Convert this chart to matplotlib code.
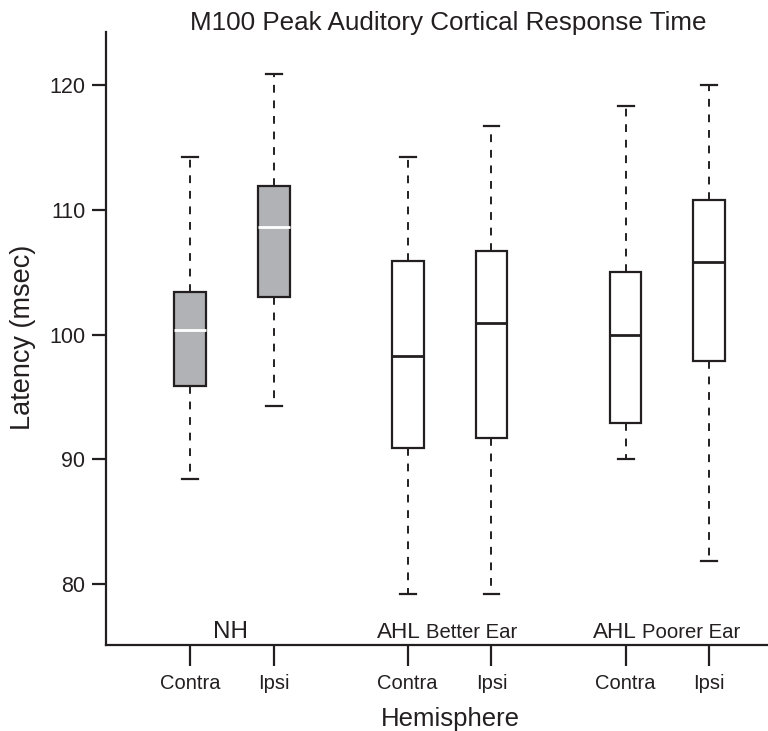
import matplotlib
matplotlib.use("Agg")
import matplotlib.pyplot as plt

plt.rcParams['font.family'] = ['Liberation Sans', 'DejaVu Sans']

# box stats (msec)
labels = ["Contra", "Ipsi", "Contra", "Ipsi", "Contra", "Ipsi"]
whislo = [88.4, 94.3, 79.2, 79.2, 90.0, 81.8]
q1 = [95.9, 103.0, 90.9, 91.7, 92.9, 97.9]
med = [100.4, 108.6, 98.3, 100.9, 100.0, 105.8]
q3 = [103.4, 111.9, 105.9, 106.7, 105.0, 110.8]
whishi = [114.2, 120.9, 114.2, 116.7, 118.3, 120.0]
groups = ["NH", "AHL", "AHL"]
subgroups = ["", "Better Ear", "Poorer Ear"]

ink = "#231f20"
gray = "#b1b2b5"
pos = [1, 2, 3.6, 4.6, 6.2, 7.2]

fig = plt.figure(figsize=(7.68, 7.31), dpi=100)
ax = fig.add_axes([0.138, 0.1176, 0.862, 0.8385])

stats = []
for i in range(len(med)):
    stats.append(dict(whislo=whislo[i], q1=q1[i], med=med[i], q3=q3[i],
                      whishi=whishi[i], fliers=[]))

for i, s in enumerate(stats):
    nh = i < 2
    ax.bxp([s], positions=[pos[i]], widths=0.38, patch_artist=True,
           showfliers=False,
           boxprops=dict(facecolor=gray if nh else "white", edgecolor=ink, linewidth=1.6),
           medianprops=dict(color="white" if nh else ink, linewidth=2.0),
           whiskerprops=dict(color=ink, linewidth=1.4, linestyle=(0, (4, 4))),
           capprops=dict(color=ink, linewidth=1.6))

ax.set_xlim(0, 7.9)
ax.set_ylim(75.1, 124.25)
ax.set_yticks([80, 90, 100, 110, 120])
ax.set_xticks(pos)
ax.set_xticklabels(labels)
ax.spines['top'].set_visible(False)
ax.spines['right'].set_visible(False)
for sp in ['left', 'bottom']:
    ax.spines[sp].set_linewidth(1.6)
    ax.spines[sp].set_color(ink)
ax.tick_params(axis='y', length=10, width=1.6, color=ink, labelcolor=ink,
               labelsize=15.5, pad=5)
ax.tick_params(axis='x', length=15, width=1.6, color=ink, labelcolor=ink,
               labelsize=14.5, pad=6)

# group labels just above the x axis, sharing one baseline
base = 75.67
centers = [(pos[0] + pos[1]) / 2, (pos[2] + pos[3]) / 2, (pos[4] + pos[5]) / 2]
ax.text(centers[0] - 0.02, base, groups[0], ha='center', va='baseline',
        fontsize=17.5, color=ink)
split_main = [0, 0.34, 0.37]
split_sub = [0, 0.28, 0.30]
for g in range(1, 3):
    ax.text(centers[g] - split_main[g], base, groups[g], ha='right', va='baseline',
            fontsize=16.2, color=ink)
    ax.text(centers[g] - split_sub[g], base, subgroups[g], ha='left', va='baseline',
            fontsize=14.6, color=ink)

fig.text(23 / 768, 1 - 337 / 731, "Latency (msec)", rotation=90,
         ha='center', va='center', fontsize=19.5, color=ink)
fig.text(450 / 768, 1 - 726 / 731, "Hemisphere",
         ha='center', va='baseline', fontsize=18.5, color=ink)
fig.text(448 / 768, 1 - 30 / 731, "M100 Peak Auditory Cortical Response Time",
         ha='center', va='baseline', fontsize=18.7, color=ink)

fig.savefig("out.png", dpi=100)
